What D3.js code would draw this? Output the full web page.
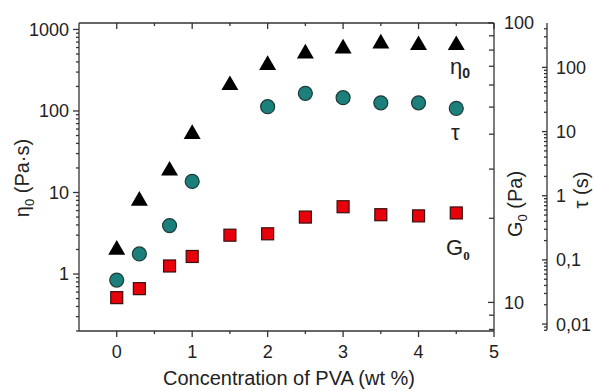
<!DOCTYPE html>
<html lang="en">
<head>
<meta charset="UTF-8">
<title>PVA rheology</title>
<script src="https://cdn.jsdelivr.net/npm/d3@7"></script>
<style>
  body { margin: 0; background: #fff; }
  text { font-family: "Liberation Sans", Arial, sans-serif; fill: #222; }
</style>
</head>
<body>
<script>
// data
const conc = [0, 0.3, 0.7, 1, 1.5, 2, 2.5, 3, 3.5, 4, 4.5]
const eta0 = [1.98, 7.9, 18.5, 52, 207, 365, 507, 584, 672, 641, 641]          // Pa·s, left axis
const g0 = [10.4, 11.2, 13.5, 14.6, 17.4, 17.6, 20.2, 22.0, 20.6, 20.4, 20.9]  // Pa, inner right axis
const tauX = [0, 0.3, 0.7, 1, 2, 2.5, 3, 3.5, 4, 4.5]
const tau = [0.0485, 0.124, 0.343, 1.67, 24.4, 39.5, 33.7, 28.1, 28.1, 23.0]  // s, outer right axis
const xTicks = [0, 1, 2, 3, 4, 5]
const etaTicks = [1, 10, 100, 1000]
const g0Ticks = [10, 100]
const tauTicks = [0.01, 0.1, 1, 10, 100]
const tauTickLabels = ['0,01', '0,1', '1', '10', '100']

const W = 594, H = 391
const m = {left: 79, right: 494, top: 23, bottom: 331}

const svg = d3.select('body').append('svg').attr('width', W).attr('height', H)

const x = d3.scaleLinear().domain([-0.5, 5]).range([m.left, m.right])
const yEta = d3.scaleLog().domain([0.2, 1200]).range([m.bottom, m.top])
const yG = d3.scaleLog().domain([7.9, 100]).range([m.bottom, m.top])
const yTau = d3.scaleLog().domain([0.0078, 492]).range([m.bottom, m.top])

// minor log ticks inside a domain
const logMinor = (s) => {
    const [a, b] = s.domain()
    const out = []
    for (let e = Math.floor(Math.log10(a)); e <= Math.ceil(Math.log10(b)); e++) {
        for (let k = 2; k <= 9; k++) {
            const v = k * Math.pow(10, e)
            if (v >= a && v <= b) out.push(v)
        }
    }
    return out
}

const axG = svg.append('g').attr('stroke', '#333').attr('stroke-width', 1.3)

// frame lines
axG.append('line').attr('x1', m.left).attr('x2', m.right).attr('y1', m.bottom).attr('y2', m.bottom)
axG.append('line').attr('x1', m.left).attr('x2', m.right).attr('y1', m.top).attr('y2', m.top)
axG.append('line').attr('x1', m.left).attr('x2', m.left).attr('y1', m.top).attr('y2', m.bottom)
axG.append('line').attr('x1', m.right).attr('x2', m.right).attr('y1', m.top).attr('y2', m.bottom)

// x ticks, bottom outward + top inward
const xMinor = d3.range(0, 5.01, 0.5)
xMinor.forEach(v => {
    const major = Number.isInteger(v)
    axG.append('line').attr('x1', x(v)).attr('x2', x(v))
        .attr('y1', m.bottom).attr('y2', m.bottom + (major ? 6 : 3))
    axG.append('line').attr('x1', x(v)).attr('x2', x(v))
        .attr('y1', m.top).attr('y2', m.top + (major ? 6 : 3))
})
svg.append('g').selectAll('text').data(xTicks).join('text')
    .attr('x', d => x(d)).attr('y', m.bottom + 27)
    .attr('text-anchor', 'middle').attr('font-size', 18)
    .text(d => d)

// left eta axis
logMinor(yEta).forEach(v => {
    axG.append('line').attr('x1', m.left - 3).attr('x2', m.left).attr('y1', yEta(v)).attr('y2', yEta(v))
})
etaTicks.forEach(v => {
    axG.append('line').attr('x1', m.left - 6).attr('x2', m.left).attr('y1', yEta(v)).attr('y2', yEta(v))
})
svg.append('g').selectAll('text').data(etaTicks).join('text')
    .attr('x', m.left - 10).attr('y', d => yEta(d)).attr('dy', '0.36em')
    .attr('text-anchor', 'end').attr('font-size', 18)
    .text(d => d)

// inner right G0 axis (ticks inward)
logMinor(yG).forEach(v => {
    axG.append('line').attr('x1', m.right - 5).attr('x2', m.right).attr('y1', yG(v)).attr('y2', yG(v))
})
g0Ticks.forEach(v => {
    axG.append('line').attr('x1', m.right - 6).attr('x2', m.right).attr('y1', yG(v)).attr('y2', yG(v))
})
svg.append('g').selectAll('text').data(g0Ticks).join('text')
    .attr('x', m.right + 10).attr('y', d => yG(d)).attr('dy', '0.36em')
    .attr('font-size', 18)
    .text(d => d)

// outer right tau axis
const tauX0 = 547
axG.append('line').attr('x1', tauX0).attr('x2', tauX0).attr('y1', m.top).attr('y2', m.bottom - 1)
logMinor(yTau).forEach(v => {
    axG.append('line').attr('x1', tauX0 - 3).attr('x2', tauX0).attr('y1', yTau(v)).attr('y2', yTau(v))
})
tauTicks.forEach(v => {
    axG.append('line').attr('x1', tauX0 - 5).attr('x2', tauX0).attr('y1', yTau(v)).attr('y2', yTau(v))
})
svg.append('g').selectAll('text').data(tauTicks).join('text')
    .attr('x', tauX0 + 9).attr('y', d => yTau(d)).attr('dy', '0.36em')
    .attr('font-size', 18)
    .text((d, i) => tauTickLabels[i])

// axis titles
svg.append('text').attr('x', 289).attr('y', 385)
    .attr('text-anchor', 'middle').attr('font-size', 20)
    .text('Concentration of PVA (wt %)')

const leftT = svg.append('text').attr('transform', 'translate(29,178) rotate(-90)')
    .attr('text-anchor', 'middle').attr('font-size', 20)
leftT.append('tspan').text('η')
leftT.append('tspan').attr('font-size', 13).attr('dy', 5).text('0')
leftT.append('tspan').attr('dy', -5).text(' (Pa·s)')

const gT = svg.append('text').attr('transform', 'translate(522,204) rotate(-90)')
    .attr('text-anchor', 'middle').attr('font-size', 20)
gT.append('tspan').text('G')
gT.append('tspan').attr('font-size', 13).attr('dy', 5).text('0')
gT.append('tspan').attr('dy', -5).text(' (Pa)')

svg.append('text').attr('transform', 'translate(588,190) rotate(-90)')
    .attr('text-anchor', 'middle').attr('font-size', 20)
    .text('τ (s)')

// markers
const tri = d3.symbol().type(d3.symbolTriangle).size(125)
svg.append('g').selectAll('path').data(conc).join('path')
    .attr('d', tri)
    .attr('transform', (d, i) => `translate(${x(d)},${yEta(eta0[i])})`)
    .attr('fill', '#000')

svg.append('g').selectAll('circle').data(tauX).join('circle')
    .attr('cx', d => x(d)).attr('cy', (d, i) => yTau(tau[i]))
    .attr('r', 7)
    .attr('fill', '#1b7f7c').attr('stroke', '#1f3b3a').attr('stroke-width', 1.2)

svg.append('g').selectAll('rect').data(conc).join('rect')
    .attr('x', d => x(d) - 6).attr('y', (d, i) => yG(g0[i]) - 6)
    .attr('width', 12).attr('height', 12)
    .attr('fill', '#e8000b').attr('stroke', '#3a1010').attr('stroke-width', 1.2)

// series labels
const serif = '"Liberation Serif", "DejaVu Serif", serif'
const lEta = svg.append('text').attr('x', 450).attr('y', 74).attr('font-size', 22).attr('font-family', serif)
lEta.append('tspan').text('η')
lEta.append('tspan').attr('font-size', 14).attr('dy', 4).attr('font-weight', 'bold').text('0')
svg.append('text').attr('x', 451).attr('y', 140).attr('font-size', 22).attr('font-family', serif).text('τ')
const lG = svg.append('text').attr('x', 446).attr('y', 255).attr('font-size', 22)
lG.append('tspan').text('G')
lG.append('tspan').attr('font-size', 13).attr('dy', 5).attr('font-family', serif).attr('font-weight', 'bold').text('0')
</script>
</body>
</html>
